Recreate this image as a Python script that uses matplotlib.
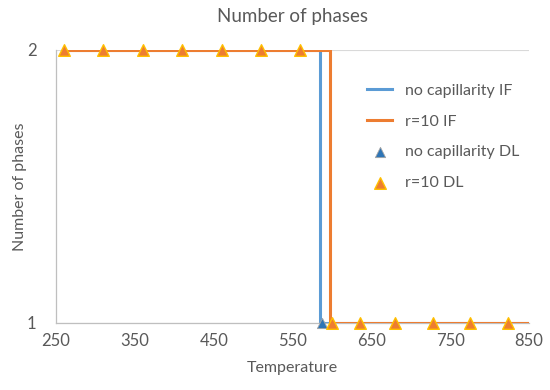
import matplotlib
matplotlib.use("Agg")
import matplotlib.pyplot as plt

# step curves (temperature, number of phases)
nocap_if_t = [260, 585, 585, 850]
nocap_if_n = [2, 2, 1, 1]
r10_if_t = [260, 597, 597, 850]
r10_if_n = [2, 2, 1, 1]

# direct-label points
nocap_dl_t = [587]
nocap_dl_n = [1]
r10_dl_t = [260, 310, 360, 410, 460, 510, 560, 600, 635, 680, 728, 775, 823]
r10_dl_n = [2, 2, 2, 2, 2, 2, 2, 1, 1, 1, 1, 1, 1]

xticks = [250, 350, 450, 550, 650, 750, 850]
yticks = [1, 2]

plt.rcParams['font.family'] = ['Lato', 'DejaVu Sans']
gray = '#595959'

fig = plt.figure(figsize=(5.5, 3.9), dpi=100)
ax = fig.add_axes([0.102, 0.172, 0.86, 0.70])

ax.plot(nocap_if_t, nocap_if_n, color='#5B9BD5', lw=2.2, label='no capillarity IF', zorder=2)
ax.plot(r10_if_t, r10_if_n, color='#ED7D31', lw=2.2, label='r=10 IF', zorder=3)
ax.scatter(nocap_dl_t, nocap_dl_n, marker='^', s=55, color='#2E75B6', edgecolor='#A5A5A5',
           linewidth=0.6, label='no capillarity DL', zorder=4, clip_on=False)
ax.scatter(r10_dl_t, r10_dl_n, marker='^', s=70, color='#ED7D31', edgecolor='#FFC000',
           linewidth=1.0, label='r=10 DL', zorder=5, clip_on=False)

ax.set_xlim(250, 850)
ax.set_ylim(1, 2)
ax.set_xticks(xticks)
ax.set_yticks(yticks)
ax.tick_params(length=0, labelsize=12, colors=gray)
ax.tick_params(axis='x', pad=7)
ax.tick_params(axis='y', pad=14)
ax.grid(axis='y', color='#D9D9D9', lw=0.8)
ax.set_axisbelow(True)
for s in ['top', 'right']:
    ax.spines[s].set_visible(False)
for s in ['left', 'bottom']:
    ax.spines[s].set_color('#BFBFBF')
    ax.spines[s].set_linewidth(0.9)

ax.set_title('Number of phases', fontsize=13.5, color=gray, pad=20)
ax.set_xlabel('Temperature', fontsize=11.5, color=gray, labelpad=9)
ax.set_ylabel('Number of phases', fontsize=11.5, color=gray, labelpad=0)

leg = ax.legend(loc='upper right', bbox_to_anchor=(1.01, 0.93), frameon=False, fontsize=11.5,
                labelspacing=1.05, handlelength=1.6, labelcolor=gray)

fig.savefig('out.png', dpi=100)
